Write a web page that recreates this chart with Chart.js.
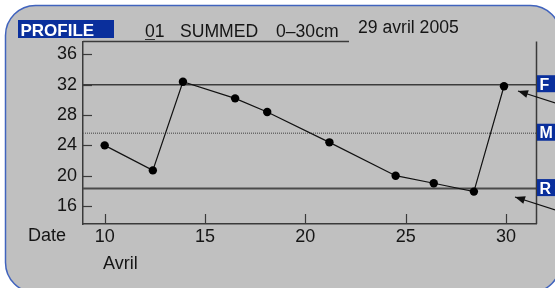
<!DOCTYPE html>
<html><head><meta charset="utf-8">
<script src="https://cdn.jsdelivr.net/npm/chart.js@4/dist/chart.umd.min.js"></script>
<style>html,body{margin:0;padding:0;background:#fff;overflow:hidden}#wrap{width:555px;height:288px;position:relative}</style>
</head><body><div id="wrap"><canvas id="c" width="555" height="288"></canvas></div>
<script>
// ---- data ----
const days = [10.0, 12.4, 13.9, 16.5, 18.1, 21.2, 24.5, 26.4, 28.4, 29.9];
const values = [24.0, 20.7, 32.4, 30.2, 28.4, 24.4, 20.0, 19.0, 17.9, 31.8];
const yTicks = [16, 20, 24, 28, 32, 36];
const xTicks = [10, 15, 20, 25, 30];
const refLabels = ['F', 'M', 'R'];
const refValues = [32.0, 25.6, 18.3];
const titleBox = 'PROFILE';
const titleNum = '01';
const titleMode = 'SUMMED';
const titleDepth = '0–30cm';
const titleDate = '29 avril 2005';
const xAxisLabel = 'Date';
const monthLabel = 'Avril';

const FONT = '"Liberation Sans", Arial, sans-serif';
const BLUE = '#0a2f9c';
const INK = '#151515';
const AXIS = '#3a3a3a';

const decor = {
  id: 'decor',
  beforeDraw(chart) {
    const ctx = chart.ctx;
    ctx.save();
    ctx.fillStyle = '#fff';
    ctx.fillRect(0, 0, chart.width, chart.height);
    ctx.beginPath();
    ctx.roundRect(5.5, 5.5, 555, 287, 30);
    ctx.fillStyle = '#c0c0c0';
    ctx.fill();
    ctx.lineWidth = 1.5;
    ctx.strokeStyle = '#4063bd';
    ctx.stroke();
    ctx.restore();
  },
  beforeDatasetsDraw(chart) {
    const ctx = chart.ctx, a = chart.chartArea;
    const xs = chart.scales.x, ys = chart.scales.y;
    ctx.save();
    const styles = [
      {w: 1.5, c: '#3c3c3c', d: []},
      {w: 1.5, c: '#6a6a6a', d: [1, 1]},
      {w: 2, c: '#4a4a4a', d: []}
    ];
    refValues.forEach((v, i) => {
      const y = ys.getPixelForValue(v);
      ctx.beginPath();
      ctx.setLineDash(styles[i].d);
      ctx.lineWidth = styles[i].w;
      ctx.strokeStyle = styles[i].c;
      ctx.moveTo(a.left, y);
      ctx.lineTo(a.right, y);
      ctx.stroke();
    });
    ctx.setLineDash([]);
    ctx.strokeStyle = AXIS;
    ctx.lineWidth = 1.2;
    ys.ticks.forEach(t => {
      const y = Math.round(ys.getPixelForValue(t.value)) + 0.5;
      ctx.beginPath(); ctx.moveTo(a.left, y); ctx.lineTo(a.left + 9, y); ctx.stroke();
    });
    xs.ticks.forEach(t => {
      const x = Math.round(xs.getPixelForValue(t.value)) + 0.5;
      ctx.beginPath(); ctx.moveTo(x, a.bottom); ctx.lineTo(x, a.bottom - 10); ctx.stroke();
    });
    ctx.lineWidth = 1.5;
    ctx.beginPath();
    ctx.moveTo(a.left, a.top); ctx.lineTo(349, a.top);
    ctx.moveTo(a.right, a.top); ctx.lineTo(a.right, a.bottom);
    ctx.stroke();
    ctx.restore();
  },
  afterDraw(chart) {
    const ctx = chart.ctx, a = chart.chartArea;
    const ys = chart.scales.y;
    ctx.save();
    ctx.fillStyle = BLUE;
    ctx.fillRect(18, 20, 96, 18);
    ctx.fillStyle = '#fff';
    ctx.font = 'bold 17px ' + FONT;
    ctx.textBaseline = 'alphabetic';
    ctx.fillText(titleBox, 20.5, 36);
    ctx.fillStyle = INK;
    ctx.font = '17.6px ' + FONT;
    ctx.fillText(titleNum, 145, 36.5);
    ctx.fillText(titleMode, 180, 36.5);
    ctx.fillText(titleDepth, 276, 36.5);
    ctx.fillText(titleDate, 358, 33.3);
    ctx.strokeStyle = '#333';
    ctx.lineWidth = 1;
    ctx.beginPath(); ctx.moveTo(145, 39.5); ctx.lineTo(155, 39.5); ctx.stroke();
    ctx.font = '18px ' + FONT;
    ctx.fillText(xAxisLabel, 28, 241);
    ctx.fillText(monthLabel, 103, 269);
    refValues.forEach((v, i) => {
      const y = ys.getPixelForValue(v);
      ctx.fillStyle = BLUE;
      ctx.fillRect(a.right + 0.5, y - 9.5, 20, 17);
      ctx.fillStyle = '#fff';
      ctx.font = 'bold 16px ' + FONT;
      ctx.fillText(refLabels[i], a.right + 3, y + 5);
    });
    const arrow = (x1, y1, x2, y2) => {
      ctx.strokeStyle = '#111'; ctx.fillStyle = '#111'; ctx.lineWidth = 1.2;
      ctx.beginPath(); ctx.moveTo(x1, y1); ctx.lineTo(x2, y2); ctx.stroke();
      const ang = Math.atan2(y2 - y1, x2 - x1);
      const L = 10, W = 4;
      ctx.beginPath();
      ctx.moveTo(x2, y2);
      ctx.lineTo(x2 - L * Math.cos(ang) + W * Math.sin(ang), y2 - L * Math.sin(ang) - W * Math.cos(ang));
      ctx.lineTo(x2 - L * Math.cos(ang) - W * Math.sin(ang), y2 - L * Math.sin(ang) + W * Math.cos(ang));
      ctx.closePath(); ctx.fill();
    };
    arrow(557, 103.5, 518, 91);
    arrow(557, 210.5, 515, 197);
    ctx.restore();
  }
};

new Chart(document.getElementById('c'), {
  type: 'line',
  data: {
    datasets: [{
      data: days.map((d, i) => ({x: d, y: values[i]})),
      borderColor: '#111',
      borderWidth: 1.2,
      pointRadius: 4.2,
      pointBackgroundColor: '#000',
      pointBorderColor: '#000',
      pointBorderWidth: 0,
      tension: 0,
      fill: false
    }]
  },
  options: {
    responsive: false,
    animation: false,
    devicePixelRatio: 1,
    layout: {padding: {left: 0, top: 41.5, right: 18.5, bottom: 0}},
    plugins: {legend: {display: false}, tooltip: {enabled: false}},
    scales: {
      x: {
        type: 'linear', min: 8.92, max: 31.52,
        afterBuildTicks: s => { s.ticks = xTicks.map(v => ({value: v})); },
        afterFit: s => { s.height = 64; },
        grid: {display: false, drawTicks: false, tickLength: 0},
        border: {display: true, color: AXIS, width: 1.5},
        ticks: {color: INK, font: {family: FONT, size: 18}, padding: 2, maxRotation: 0, autoSkip: false}
      },
      y: {
        type: 'linear', min: 13.63, max: 37.70,
        afterBuildTicks: s => { s.ticks = yTicks.map(v => ({value: v})); },
        afterFit: s => { s.width = 83; },
        grid: {display: false, drawTicks: false, tickLength: 0},
        border: {display: true, color: AXIS, width: 1.5},
        ticks: {color: INK, font: {family: FONT, size: 18}, padding: 6, autoSkip: false}
      }
    }
  },
  plugins: [decor]
});
</script></body></html>
